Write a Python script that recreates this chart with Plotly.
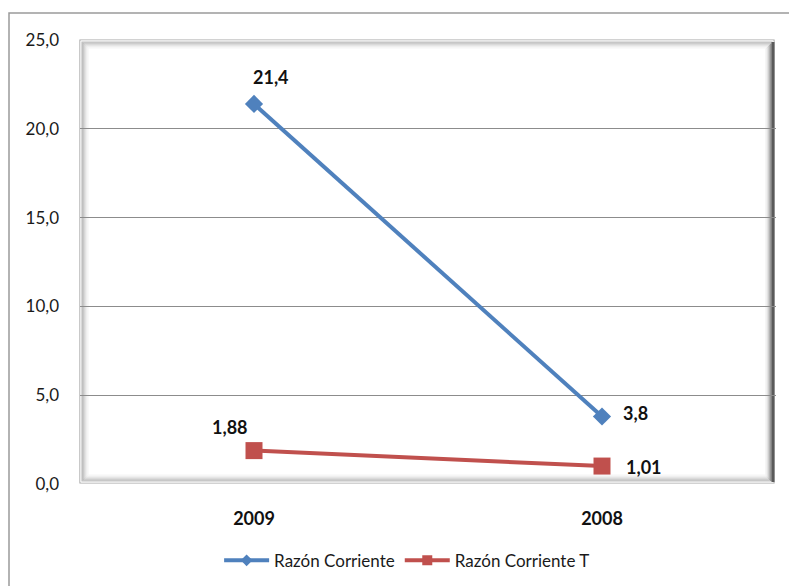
import plotly.graph_objects as go

years = ["2009", "2008"]
razon_corriente = [21.4, 3.8]
razon_corriente_t = [1.88, 1.01]
labels_rc = ["21,4", "3,8"]
labels_rct = ["1,88", "1,01"]
y_ticks = [0, 5, 10, 15, 20, 25]

BLUE = "#4F81BD"
RED = "#C0504D"
FONT = "Lato, 'Open Sans', sans-serif"

fig = go.Figure()
fig.add_trace(go.Scatter(
    x=years, y=razon_corriente, name="Razón Corriente", showlegend=False,
    mode="lines+markers",
    line=dict(color=BLUE, width=4),
    marker=dict(symbol="diamond", size=14, color=BLUE),
    cliponaxis=False,
))
fig.add_trace(go.Scatter(
    x=years, y=razon_corriente_t, name="Razón Corriente T", showlegend=False,
    mode="lines+markers",
    line=dict(color=RED, width=4),
    marker=dict(symbol="square", size=17, color=RED),
    cliponaxis=False,
))
# legend entries (smaller legend markers as in the original)
fig.add_trace(go.Scatter(x=[None], y=[None], name="Razón Corriente", mode="lines+markers",
                         line=dict(color=BLUE, width=4),
                         marker=dict(symbol="diamond", size=9, color=BLUE)))
fig.add_trace(go.Scatter(x=[None], y=[None], name="Razón Corriente T", mode="lines+markers",
                         line=dict(color=RED, width=4),
                         marker=dict(symbol="square", size=10, color=RED)))

label_font = dict(family=FONT, size=18, color="#111111", weight="bold")
offsets_rc = [(17, 27), (33, 4)]
offsets_rct = [(-24, 24), (42, -1)]
annotations = []
# category axis: annotation x given as the category's position index
for i, (yv, t, (dx, dy)) in enumerate(zip(razon_corriente, labels_rc, offsets_rc)):
    annotations.append(dict(x=i, y=yv, text=t, showarrow=False, xshift=dx, yshift=dy, font=label_font))
for i, (yv, t, (dx, dy)) in enumerate(zip(razon_corriente_t, labels_rct, offsets_rct)):
    annotations.append(dict(x=i, y=yv, text=t, showarrow=False, xshift=dx, yshift=dy, font=label_font))

W, H = 696.0, 444.0
shapes = []
# outer chart border
shapes.append(dict(type="rect", xref="paper", yref="paper",
                   x0=-71 / W, x1=1 + 40 / W, y0=-200 / H, y1=1 + 27 / H,
                   line=dict(color="#9a9a9a", width=1.5), layer="below"))
# bevel frame
greys = ["#a6a6a6", "#ffffff", "#c0c0c0", "#b0b0b0", "#c4c4c4", "#d4d4d4", "#e2e2e2", "#eeeeee", "#f6f6f6"]
for i, c in enumerate(greys):
    shapes.append(dict(type="rect", xref="x domain", yref="y domain",
                       x0=i / W, x1=1 - (i + 2) / W, y0=(i + 1) / H, y1=1 - i / H,
                       line=dict(color=c, width=1.2), layer="below"))
# dark right edge
shapes.append(dict(type="line", xref="x domain", yref="y domain",
                   x0=1 - 3 / W, x1=1 - 3 / W, y0=2 / H, y1=1 - 2 / H,
                   line=dict(color="#5a5a5a", width=3), layer="below"))
darks = ["#7a7a7a", "#999999", "#b8b8b8", "#d2d2d2", "#e6e6e6", "#f3f3f3"]
for i, c in enumerate(darks):
    shapes.append(dict(type="line", xref="x domain", yref="y domain",
                       x0=1 - (5 + i) / W, x1=1 - (5 + i) / W, y0=(3 + i) / H, y1=1 - (4 + i) / H,
                       line=dict(color=c, width=1.2), layer="below"))

fig.update_layout(
    width=789, height=586,
    margin=dict(l=80, r=13, t=40, b=102, autoexpand=False),
    paper_bgcolor="white", plot_bgcolor="white",
    separators=",.",
    font=dict(family=FONT, size=15, color="#1a1a1a"),
    showlegend=True,
    legend=dict(orientation="h", x=0.47, xanchor="center", y=-0.173, yanchor="middle",
                font=dict(family=FONT, size=17, color="#1a1a1a"), itemwidth=45,
                traceorder="normal"),
    shapes=shapes,
    annotations=annotations,
)
fig.update_xaxes(type="category", range=[-0.5, 1.5], showgrid=False, zeroline=False,
                 showline=False, ticks="", ticklabelstandoff=22,
                 tickfont=dict(family=FONT, size=18, color="#111111", weight="bold"))
fig.update_yaxes(range=[0, 25], tickvals=y_ticks, tickformat=".1f", showgrid=True,
                 gridcolor="#8c8c8c", gridwidth=1, zeroline=False, showline=False,
                 ticks="", ticklabelstandoff=20,
                 tickfont=dict(family=FONT, size=17, color="#1a1a1a"))

fig.write_html("out.html")
